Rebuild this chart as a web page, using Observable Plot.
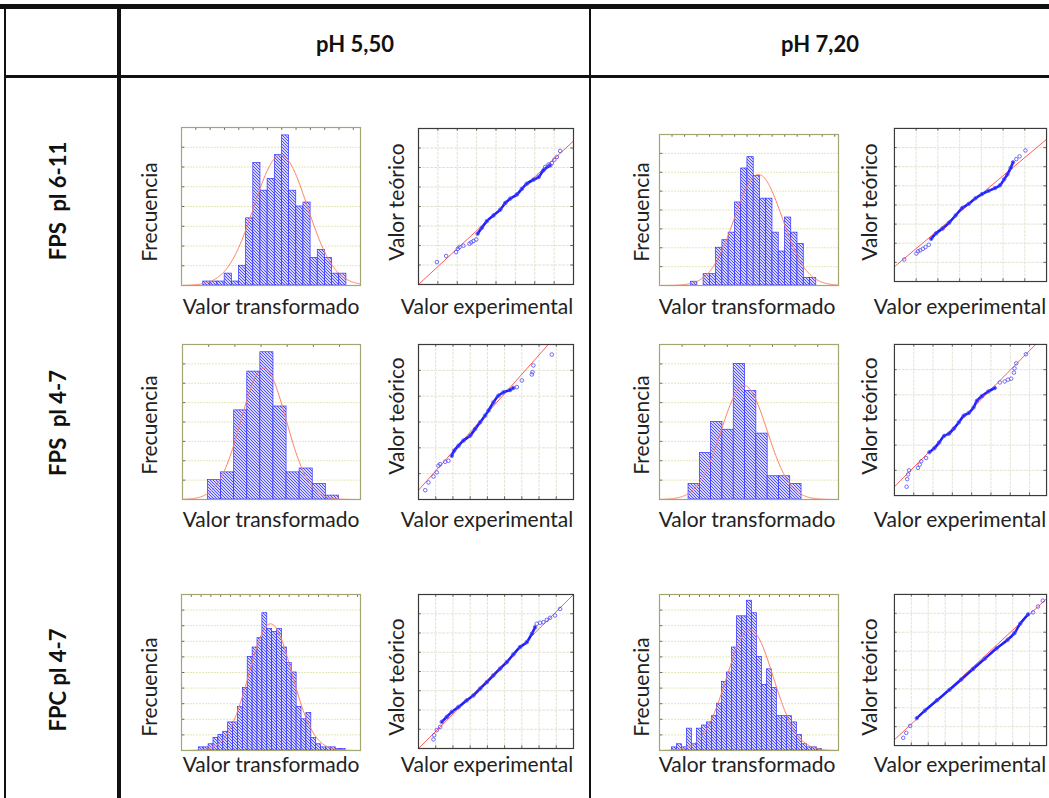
<!DOCTYPE html>
<html><head><meta charset="utf-8">
<script src="https://cdn.jsdelivr.net/npm/d3@7"></script>
<script src="https://cdn.jsdelivr.net/npm/@observablehq/plot@0.6"></script>
<style>
body{margin:0;background:#fff;}
#page{position:relative;width:1049px;height:798px;overflow:hidden;font-family:Lato,"Open Sans",sans-serif;color:#222;}
.ln{position:absolute;background:#111;}
.lbl{position:absolute;white-space:pre;font-size:21px;color:#222;transform:translate(-50%,-50%);}
.hdr{position:absolute;white-space:pre;font-weight:bold;font-size:22px;color:#111;transform:translate(-50%,-50%);}
div.rot{transform:translate(-50%,-50%) rotate(-90deg);}
.chart{position:absolute;}
</style></head><body>
<svg width="0" height="0" style="position:absolute">
<defs>
<pattern id="hatch" patternUnits="userSpaceOnUse" width="3" height="3">
<rect width="3" height="3" fill="#d6d6ff"/>
<path d="M-1,-1 L4,4 M2,-1 L4,1 M-1,2 L1,4" stroke="#4040ff" stroke-width="0.9"/>
</pattern>
</defs></svg>
<div id="page"></div>
<script>
// ---- text ----
const columnTitles = ["pH 5,50", "pH 7,20"];
const rowTitles = ["FPS  pl 6-11", "FPS  pl 4-7", "FPC pl 4-7"];
const histXLabel = "Valor transformado";
const histYLabel = "Frecuencia";
const qqXLabel = "Valor experimental";
const qqYLabel = "Valor teórico";

// ---- histograms: counts per bin, first bin edge, x range, y max, fitted normal [mean, sd, peak] ----
const h1Counts = [1,1,1,3,1,5,17,31,24,27,33,38,24,20,21,7,9,7,3,3];
const h1First = 3.03, h1Range = [0, 25], h1YMax = 40, h1Fit = [13.85, 3.73, 33];
const h2Counts = [1,0,3,3,10,12,14,22,31,34,29,23,23,14,9,18,14,11,2,2];
const h2First = 5.05, h2Range = [0, 28.6], h2YMax = 40, h2Fit = [15.8, 3.83, 29.4];
const h3Counts = [5,7,23,33,38,24,7,8,4,1];
const h3First = 1.95, h3Range = [0, 13.6], h3YMax = 40, h3Fit = [6.2, 1.72, 33.9];
const h4Counts = [4,12,20,18,35,28,17,6,6,4];
const h4First = 2.57, h4Range = [0, 15.84], h4YMax = 40, h4Fit = [7.49, 2.03, 29.4];
const h5Counts = [1,1,2,4,5,6,9,9,14,20,30,33,36,44,39,38,39,33,28,25,14,10,12,4,2,1,1,1,0.5,0.5];
const h5First = 3.54, h5Range = [0, 36.6], h5YMax = 50, h5Fit = [18.2, 4.4, 40.6];
const h6Counts = [1,2,1,7,2,7,8,9,11,15,22,25,33,43,43,48,44,30,21,26,20,11,11,11,9,5,2,1,1,0.5];
const h6First = 2.47, h6Range = [0, 35.8], h6YMax = 50, h6Fit = [18.1, 4.67, 38.7];

// ---- normal probability plots: [experimental, theoretical] ----
const q1Dense = [[3.05,2.60],[3.27,2.91],[3.53,3.25],[3.87,3.54],[4.22,3.84],[4.48,4.18],[4.73,4.40],[5.08,4.62],[5.34,4.91],[5.59,5.17],[5.94,5.38],[6.20,5.51],[6.45,5.86],[6.80,6.11]];
const q1Sparse = [[0.95,1.15],[1.43,1.46],[1.94,1.66],[2.03,1.83],[2.12,1.92],[2.32,1.99],[2.63,2.09],[2.72,2.16],[2.84,2.23],[2.98,2.31],[6.54,6.03],[6.71,6.15],[6.88,6.23],[7.01,6.40],[7.14,6.54],[7.31,6.85]];
const q1Line = [[0,0],[8,7.36]], q1X = [0,8], q1Y = [0,8];
const q2Dense = [[1.69,2.23],[1.92,2.52],[2.22,2.77],[2.52,3.08],[2.82,3.46],[3.12,3.84],[3.42,4.06],[3.73,4.35],[4.03,4.57],[4.33,4.74],[4.63,4.88],[4.86,5.03],[5.05,5.34],[5.20,5.60],[5.35,5.94],[5.46,6.23]];
const q2Sparse = [[0.45,1.15],[1.01,1.46],[1.09,1.58],[1.19,1.63],[1.31,1.71],[1.43,1.80],[1.58,1.92],[5.61,6.40],[5.76,6.54],[6.03,6.85]];
const q2Line = [[0,0.77],[7,7.43]], q2X = [0,7], q2Y = [0,8];
const q3Dense = [[1.93,1.69],[2.07,1.89],[2.32,2.08],[2.61,2.28],[3.00,2.47],[3.29,2.73],[3.58,2.99],[3.87,3.25],[4.06,3.44],[4.35,3.76],[4.64,4.02],[4.93,4.15],[5.32,4.24],[5.51,4.32]];
const q3Sparse = [[0.39,0.36],[0.58,0.66],[0.87,0.89],[1.06,1.05],[1.16,1.31],[1.26,1.37],[1.55,1.46],[1.74,1.50],[5.71,4.35],[6.00,4.61],[6.58,4.84],[6.62,4.93],[6.67,5.19],[7.74,5.61]];
const q3Line = [[0,0.36],[7.54,6]], q3X = [0,9], q3Y = [0,6];
const q4Dense = [[1.81,1.72],[2.07,1.88],[2.32,2.11],[2.58,2.37],[2.83,2.46],[3.08,2.66],[3.34,2.91],[3.59,3.17],[3.85,3.28],[4.10,3.50],[4.27,3.76],[4.53,3.95],[4.86,4.13],[5.20,4.27]];
const q4Sparse = [[0.63,0.35],[0.66,0.65],[0.71,0.84],[0.76,1.00],[1.22,1.10],[1.31,1.23],[1.39,1.36],[1.64,1.49],[5.46,4.49],[5.71,4.53],[5.88,4.60],[6.05,4.64],[6.19,4.88],[6.22,5.05],[6.31,5.25],[6.81,5.61]];
const q4Line = [[0,0.35],[7.32,6]], q4X = [0,7.88], q4Y = [0,6];
const q5Dense = [[1.35,1.38],[1.64,1.64],[1.93,1.90],[2.32,2.16],[2.80,2.50],[3.19,2.76],[3.58,3.11],[3.97,3.45],[4.35,3.80],[4.74,4.15],[5.13,4.49],[5.51,4.89],[5.90,5.27],[6.29,5.53],[6.58,5.96],[6.77,6.30]];
const q5Sparse = [[0.87,0.47],[0.91,0.69],[1.06,0.95],[1.26,1.12],[6.87,6.48],[7.06,6.53],[7.25,6.56],[7.45,6.68],[7.64,6.79],[7.93,6.91],[8.22,7.25]];
const q5Line = [[0,0],[9,8]], q5X = [0,9], q5Y = [0,8];
const q6Dense = [[1.32,1.45],[1.80,1.85],[2.52,2.40],[3.25,2.95],[3.95,3.50],[4.65,4.05],[5.35,4.60],[6.05,5.15],[6.70,5.60],[7.10,5.95],[7.44,6.45],[7.91,6.95]];
const q6Sparse = [[0.52,0.41],[0.70,0.67],[0.93,1.04],[8.20,7.05],[8.49,7.36],[8.78,7.67]];
const q6Line = [[0,0.31],[9,7.77]], q6X = [0,9], q6Y = [0,8];

// ---- layout ----
const page = document.getElementById("page");
function el(cls, text, x, y, extra) {
  const d = document.createElement("div");
  d.className = cls; d.textContent = text;
  d.style.left = x + "px"; d.style.top = y + "px";
  if (extra) Object.assign(d.style, extra);
  page.appendChild(d); return d;
}
function line(l, t, w, h) { el("ln", "", l, t, {width: w + "px", height: h + "px"}); }
line(0, 4, 1049, 5);
line(4, 4, 2, 794);
line(117, 4, 4, 794);
line(589, 4, 2, 794);
line(4, 75, 1045, 3);
el("hdr", columnTitles[0], 355, 43);
el("hdr", columnTitles[1], 820, 43);
el("hdr rot", rowTitles[0], 57, 201);
el("hdr rot", rowTitles[1], 57, 423);
el("hdr rot", rowTitles[2], 57, 680);

const M = 3;
function place(svg, l, t) {
  const d = document.createElement("div");
  d.className = "chart"; d.style.left = (l - M) + "px"; d.style.top = (t - M) + "px";
  d.appendChild(svg); page.appendChild(d);
}
function edgeTicks(xr, yr, xt, yt, sides) {
  const dx = (xr[1] - xr[0]) * 0.018, dy = (yr[1] - yr[0]) * 0.018, m = [];
  const st = {stroke: "#666", strokeWidth: 1};
  if (sides.includes("l")) m.push(Plot.ruleY(yt, {x1: xr[0], x2: xr[0] + dx, ...st}));
  if (sides.includes("r")) m.push(Plot.ruleY(yt, {x1: xr[1] - dx, x2: xr[1], ...st}));
  if (sides.includes("t")) m.push(Plot.ruleX(xt, {y1: yr[1] - dy, y2: yr[1], ...st}));
  if (sides.includes("b")) m.push(Plot.ruleX(xt, {y1: yr[0], y2: yr[0] + dy, ...st}));
  return m;
}
function hist(counts, first, xr, ymax, fit, w, h) {
  const bins = counts.map((c, i) => ({x1: first + i, x2: first + i + 1, c}));
  const [mu, sd, pk] = fit;
  const step = (xr[1] - xr[0]) / 300;
  const curve = d3.range(xr[0], xr[1] + step / 2, step).map(x => ({x, y: pk * Math.exp(-0.5 * ((x - mu) / sd) ** 2)}));
  const gy = d3.range(5, ymax, 5);
  const gx = d3.range(Math.ceil(xr[0]), xr[1], 2);
  return Plot.plot({
    width: w + 2 * M, height: h + 2 * M, margin: M,
    x: {domain: xr, axis: null}, y: {domain: [0, ymax], axis: null},
    marks: [
      Plot.gridY(gy, {stroke: "#e6e6b8", strokeOpacity: 1, strokeDasharray: "2,1"}),
      Plot.rectY(bins, {x1: "x1", x2: "x2", y1: 0, y2: "c", fill: "url(#hatch)", stroke: "#3030ff", strokeWidth: 0.7}),
      Plot.line(curve, {x: "x", y: "y", stroke: "#ff7d60", strokeWidth: 1}),
      ...edgeTicks(xr, [0, ymax], gx, gy, "lt"),
      Plot.frame({stroke: "#a6a674", strokeWidth: 1.2})
    ]
  });
}
function qq(dense, sparse, ln, xr, yr, w, h) {
  const gx = d3.range(1, xr[1]), gy = d3.range(1, yr[1]);
  const lp = ln.map(([x, y]) => ({x, y}));
  return Plot.plot({
    width: w + 2 * M, height: h + 2 * M, margin: M,
    x: {domain: xr, axis: null}, y: {domain: yr, axis: null},
    marks: [
      Plot.gridX(gx, {stroke: "#e2e2d4", strokeOpacity: 1, strokeDasharray: "3,1"}),
      Plot.gridY(gy, {stroke: "#e2e2d4", strokeOpacity: 1, strokeDasharray: "3,1"}),
      Plot.line(lp, {x: "x", y: "y", stroke: "#ff5a5a", strokeWidth: 1, clip: true}),
      Plot.line(dense, {x: d => d[0], y: d => d[1], stroke: "#2020ff", strokeWidth: 2.6, curve: "catmull-rom"}),
      Plot.dot(sparse.concat(dense), {x: d => d[0], y: d => d[1], r: 1.8, stroke: "#4a4aff", strokeWidth: 0.8, fill: "none"}),
      ...edgeTicks(xr, yr, gx, gy, "lrtb"),
      Plot.frame({stroke: "#3a3a3a", strokeWidth: 1.2})
    ]
  });
}

// row 1
place(hist(h1Counts, h1First, h1Range, h1YMax, h1Fit, 179, 158), 181, 127);
place(qq(q1Dense, q1Sparse, q1Line, q1X, q1Y, 155, 156), 418, 128);
place(hist(h2Counts, h2First, h2Range, h2YMax, h2Fit, 179, 151), 659, 134);
place(qq(q2Dense, q2Sparse, q2Line, q2X, q2Y, 155, 156), 894, 128);
// row 2
place(hist(h3Counts, h3First, h3Range, h3YMax, h3Fit, 178, 155), 182, 344);
place(qq(q3Dense, q3Sparse, q3Line, q3X, q3Y, 155, 155), 418, 344);
place(hist(h4Counts, h4First, h4Range, h4YMax, h4Fit, 179, 155), 659, 344);
place(qq(q4Dense, q4Sparse, q4Line, q4X, q4Y, 155, 154), 894, 344);
// row 3
place(hist(h5Counts, h5First, h5Range, h5YMax, h5Fit, 179, 156), 181, 594);
place(qq(q5Dense, q5Sparse, q5Line, q5X, q5Y, 155, 154), 418, 594);
place(hist(h6Counts, h6First, h6Range, h6YMax, h6Fit, 179, 156), 659, 594);
place(qq(q6Dense, q6Sparse, q6Line, q6X, q6Y, 155, 154), 894, 594);

// axis labels
const rowsY = [{xl: 305, h: 212, q: 202}, {xl: 518, h: 425, q: 416}, {xl: 763, h: 687, q: 677}];
rowsY.forEach(r => {
  el("lbl", histXLabel, 271, r.xl); el("lbl", qqXLabel, 487, r.xl);
  el("lbl", histXLabel, 747, r.xl); el("lbl", qqXLabel, 960, r.xl);
  el("lbl rot", histYLabel, 148, r.h); el("lbl rot", histYLabel, 640, r.h);
  el("lbl rot", qqYLabel, 395, r.q); el("lbl rot", qqYLabel, 868, r.q);
});
</script></body></html>
